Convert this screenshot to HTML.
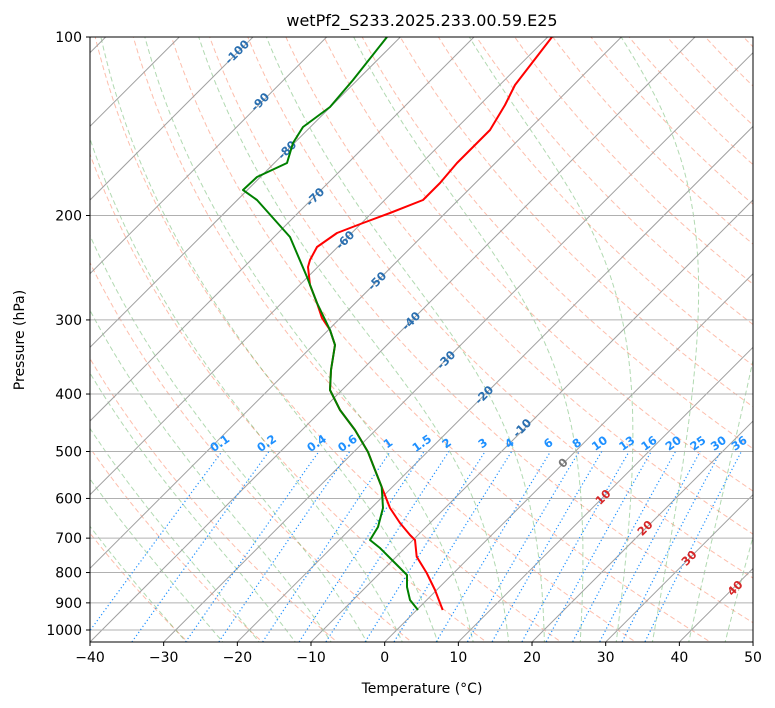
<!DOCTYPE html>
<html><head><meta charset="utf-8"><style>
html,body{margin:0;padding:0;background:#fff}
svg{display:block}
text{font-family:"DejaVu Sans","Liberation Sans",sans-serif}
</style></head><body>
<svg id="s" width="775" height="708" xmlns="http://www.w3.org/2000/svg">
<defs><clipPath id="c"><rect x="90" y="37" width="663" height="605"/></clipPath></defs>
<g id="g" clip-path="url(#c)"></g>
<g id="o"></g>
</svg>
<script>
const NS="http://www.w3.org/2000/svg";
const g=document.getElementById('g'),o=document.getElementById('o');
function el(p,tag,a,txt){const e=document.createElementNS(NS,tag);for(const k in a)e.setAttribute(k,a[k]);if(txt!==undefined)e.textContent=txt;p.appendChild(e);return e;}
const Y=p=>37+593*Math.log10(p/100);
const X=(T,p)=>90+(T+40)*7.367+(642-Y(p));
function line(pts,st){el(g,'polyline',Object.assign({points:pts.map(q=>q[0].toFixed(1)+','+q[1].toFixed(1)).join(' '),fill:'none'},st));}
const ps=[];for(let p=1060;p>=95;p*=0.98)ps.push(p);
for(let th=-30;th<=200;th+=10){const K=th+273.15;line(ps.map(p=>[X(K*Math.pow(p/1000,0.286)-273.15,p),Y(p)]),{stroke:'rgba(250,110,70,0.45)','stroke-width':1,'stroke-dasharray':'5,3'});}
function es(T){return 6.112*Math.exp(17.67*T/(T+243.5));}
function dTdp(Tc,p){const T=Tc+273.15,e=es(Tc),rs=0.622*e/(p-e),Rd=287,Lv=2.501e6,cp=1005;return (Rd*T+Lv*rs)/(cp+Lv*Lv*rs*0.622/(Rd*T*T))/p;}
for(let t0=-30;t0<=45;t0+=5){
 const up=[];let T=t0,p=1000;while(p>=100){up.push([X(T,p),Y(p)]);const dp=-5;T+=dTdp(T,p)*dp;p+=dp;}
 const dn=[];T=t0;p=1000;while(p<=1060){dn.unshift([X(T,p),Y(p)]);const dp=5;T+=dTdp(T,p)*dp;p+=dp;}
 line(dn.concat(up),{stroke:'rgba(60,160,60,0.4)','stroke-width':1,'stroke-dasharray':'5,3'});}
for(let T=-160;T<=50;T+=10)line([[X(T,1060),Y(1060)],[X(T,90),Y(90)]],{stroke:'#a0a0a0','stroke-width':1});
[100,200,300,400,500,600,700,800,900,1000].forEach(p=>el(g,'line',{x1:90,x2:753,y1:Y(p),y2:Y(p),stroke:'#b0b0b0','stroke-width':1}));
[0.1,0.2,0.4,0.6,1,1.5,2,3,4,6,8,10,13,16,20,25,30,36].forEach(w=>{
 const pts=[];for(let p=1060;p>=500;p-=10){const e=w*p/(622+w),l=Math.log(e/6.112),Td=243.5*l/(17.67-l);pts.push([X(Td,p),Y(p)]);}
 line(pts,{stroke:'#1e90ff','stroke-width':1.2,'stroke-dasharray':'1.2,2.5'});
 const q=pts[pts.length-1];el(g,'text',{x:q[0],y:q[1]-5,'font-size':11.5,'font-weight':'bold',fill:'#1e90ff','text-anchor':'middle',transform:`rotate(-35 ${q[0]} ${q[1]-5})`},String(w));});
[[-100,237,52],[-90,260,102],[-80,287,150],[-70,315,197],[-60,345,240],[-50,377,281],[-40,411,321],[-30,446,360],[-20,484,395],[-10,522,428],[0,563,463],[10,603,497],[20,645,528],[30,689,558],[40,735,588]].forEach(a=>{
 const c=a[0]<0?'#2a6fb0':(a[0]==0?'#777':'#d62728');
 el(g,'text',{x:a[1],y:a[2]+4,'font-size':11.5,'font-weight':'bold',fill:c,'text-anchor':'middle',transform:`rotate(-45 ${a[1]} ${a[2]})`},String(a[0]));});
const red=[[442.7,610],[435,590],[426.7,573],[416.7,556.7],[415,540],[410,535],[400,523],[390,508],[381.7,487],[375,470],[368,452],[355,430],[340,410],[330,390],[331,370],[335,345],[330,330],[322,318],[317,303],[310,285],[308,267],[310,260],[317,247],[337,233],[363,223],[390,213],[423,200],[440,183],[457,163],[490,130],[505,105],[515,85],[552,37]];
const grn=[[418,610],[410,600],[407,587],[407,575],[392,560],[380,548],[370,540],[378,527],[383,508],[381.7,487],[375,470],[368,452],[355,430],[340,410],[330,390],[331,370],[335,345],[330,330],[317,303],[307,277],[290,237],[257,200],[243,190],[257,177],[287,163],[293,143],[303,127],[330,107],[353,80],[387,37]];
line(red,{stroke:'#ff0000','stroke-width':2,'stroke-linejoin':'round'});
line(grn,{stroke:'#008000','stroke-width':2,'stroke-linejoin':'round'});
el(o,'rect',{x:90,y:37,width:663,height:605,fill:'none',stroke:'#000','stroke-width':1});
for(let T=-40;T<=50;T+=10){const x=90+(T+40)*7.367;el(o,'line',{x1:x,x2:x,y1:642,y2:646,stroke:'#000'});el(o,'text',{x:x,y:662,'font-size':14,'text-anchor':'middle'},(T<0?'\u2212'+(-T):T));}
[100,200,300,400,500,600,700,800,900,1000].forEach(p=>{const y=Y(p);el(o,'line',{x1:86,x2:90,y1:y,y2:y,stroke:'#000'});el(o,'text',{x:82,y:y+5,'font-size':14,'text-anchor':'end'},p);});
el(o,'text',{x:422,y:693,'font-size':14,'text-anchor':'middle'},'Temperature (°C)');
el(o,'text',{x:24,y:340,'font-size':14,'text-anchor':'middle',transform:'rotate(-90 24 340)'},'Pressure (hPa)');
el(o,'text',{x:422,y:26,'font-size':16,'text-anchor':'middle'},'wetPf2_S233.2025.233.00.59.E25');
</script>
</body></html>
